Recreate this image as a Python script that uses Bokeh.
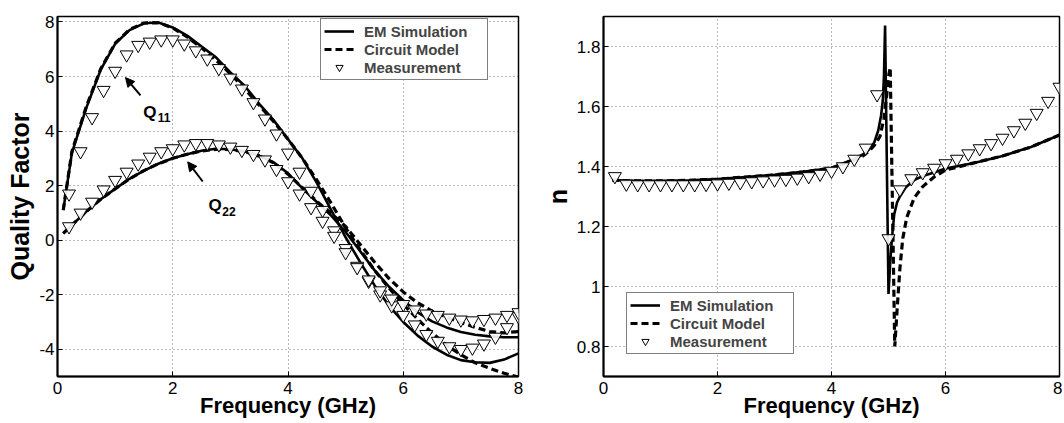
from bokeh.plotting import figure
from bokeh.layouts import row
from bokeh.models import FixedTicker, Legend, LegendItem, Arrow, NormalHead, Range1d
from bokeh.core.properties import value
from bokeh.embed import file_html
from bokeh.resources import INLINE

FONT = "Liberation Sans"

# ---------------- left panel: quality factor ----------------
q_freq = [0.1, 0.25, 0.5, 0.75, 1.0, 1.25, 1.5, 1.75, 2.0, 2.25, 2.5, 2.75, 3.0, 3.25, 3.5, 3.75,
          4.0, 4.25, 4.5, 4.75, 5.0, 5.25, 5.5, 5.75, 6.0, 6.25, 6.5, 6.75, 7.0, 7.25, 7.5, 7.75, 8.0]
q11_em = [1.1, 3.2, 4.85, 6.25, 7.2, 7.7, 7.95, 7.98, 7.8, 7.5, 7.1, 6.7, 6.15, 5.65, 5.0, 4.4,
          3.7, 3.0, 2.1, 1.1, 0.1, -0.8, -1.65, -2.4, -3.0, -3.5, -3.9, -4.2, -4.4, -4.48, -4.5, -4.38, -4.15]
q11_cm = [1.1, 3.25, 4.9, 6.28, 7.22, 7.72, 7.96, 7.97, 7.78, 7.45, 7.05, 6.6, 6.1, 5.55, 4.95, 4.35,
          3.7, 3.0, 2.2, 1.35, 0.45, -0.35, -1.1, -1.75, -2.35, -2.9, -3.4, -3.85, -4.2, -4.5, -4.7, -4.88, -5.02]
q22_em = [0.25, 0.55, 1.05, 1.5, 1.88, 2.25, 2.55, 2.8, 3.0, 3.15, 3.28, 3.35, 3.33, 3.25, 3.1, 2.85,
          2.45, 1.9, 1.4, 0.9, 0.3, -0.4, -1.1, -1.7, -2.2, -2.65, -2.98, -3.2, -3.37, -3.47, -3.53, -3.56, -3.56]
q22_cm = [0.25, 0.55, 1.05, 1.5, 1.88, 2.25, 2.55, 2.8, 3.0, 3.15, 3.27, 3.33, 3.32, 3.24, 3.08, 2.84,
          2.42, 1.92, 1.42, 0.98, 0.5, -0.15, -0.8, -1.4, -1.9, -2.3, -2.6, -2.82, -3.02, -3.2, -3.35, -3.4, -3.35]

meas_freq = [0.2, 0.4, 0.6, 0.8, 1.0, 1.2, 1.4, 1.6, 1.8, 2.0, 2.2, 2.4, 2.6, 2.8, 3.0, 3.2, 3.4, 3.6, 3.8, 4.0,
             4.2, 4.4, 4.6, 4.8, 5.0, 5.2, 5.4, 5.6, 5.8, 6.0, 6.2, 6.4, 6.6, 6.8, 7.0, 7.2, 7.4, 7.6, 7.8, 8.0]
q11_meas = [1.7, 3.25, 4.5, 5.5, 6.2, 6.8, 7.15, 7.27, 7.35, 7.35, 7.2, 6.95, 6.65, 6.3, 5.95, 5.55, 5.05, 4.45, 3.9, 3.2,
            2.5, 1.8, 1.1, 0.35, -0.3, -0.95, -1.5, -2.0, -2.4, -2.75, -3.1, -3.45, -3.7, -3.9, -4.0, -3.95, -3.8, -3.55, -3.2, -2.8]
q22_meas = [0.5, 1.0, 1.4, 1.85, 2.2, 2.5, 2.8, 3.05, 3.25, 3.36, 3.5, 3.55, 3.55, 3.5, 3.42, 3.3, 3.15, 2.95, 2.6, 2.15,
            1.7, 1.2, 0.7, 0.15, -0.45, -1.0, -1.45, -1.85, -2.15, -2.35, -2.55, -2.7, -2.75, -2.85, -2.92, -2.95, -2.9, -2.85, -2.75, -2.65]

q_xticks = [0, 2, 4, 6, 8]
q_yticks = [-4, -2, 0, 2, 4, 6, 8]
q_ytick_labels = ["-4", "-2", "0", "2", "4", "6", "8"]

# annotations (data coordinates)
q11_label_xy = (1.49, 4.69)
q11_sub_xy = (1.74, 4.5)
q11_arrow = (1.44, 5.31, 1.18, 5.96)
q22_label_xy = (2.62, 1.27)
q22_sub_xy = (2.86, 1.05)
q22_arrow = (2.52, 2.15, 2.26, 2.87)

# ---------------- right panel: refractive index n ----------------
n_em_freq = [0.15, 0.5, 1.0, 1.5, 2.0, 2.5, 3.0, 3.5, 4.0, 4.2, 4.4, 4.55, 4.65, 4.75, 4.82, 4.87, 4.9, 4.92, 4.94,
             5.0, 5.03, 5.06, 5.1, 5.15, 5.2, 5.3, 5.45, 5.6, 5.8, 6.0, 6.5, 7.0, 7.5, 8.0]
n_em = [1.355, 1.352, 1.352, 1.354, 1.358, 1.365, 1.372, 1.382, 1.395, 1.41, 1.425, 1.44, 1.455, 1.48, 1.52, 1.57, 1.62, 1.7, 1.87,
        0.975, 1.08, 1.16, 1.24, 1.28, 1.30, 1.33, 1.355, 1.368, 1.38, 1.393, 1.412, 1.435, 1.465, 1.505]
n_cm_freq = [0.15, 0.5, 1.0, 1.5, 2.0, 2.5, 3.0, 3.5, 4.0, 4.2, 4.4, 4.55, 4.65, 4.75, 4.85, 4.92, 4.97, 5.0, 5.03,
             5.11, 5.15, 5.2, 5.25, 5.32, 5.45, 5.6, 5.8, 6.0, 6.5, 7.0, 7.5, 8.0]
n_cm = [1.355, 1.352, 1.352, 1.354, 1.358, 1.365, 1.372, 1.382, 1.395, 1.408, 1.422, 1.435, 1.45, 1.47, 1.5, 1.56, 1.64, 1.7, 1.73,
        0.80, 0.92, 1.06, 1.16, 1.23, 1.295, 1.333, 1.365, 1.388, 1.412, 1.435, 1.465, 1.505]
n_meas = [1.367, 1.342, 1.340, 1.340, 1.340, 1.340, 1.340, 1.340, 1.341, 1.343, 1.345, 1.347, 1.350, 1.353, 1.356, 1.358,
          1.362, 1.367, 1.375, 1.385, 1.400, 1.425, 1.462, 1.64, 1.16, 1.323, 1.36, 1.38, 1.395, 1.41, 1.425, 1.443,
          1.46, 1.477, 1.495, 1.52, 1.545, 1.578, 1.618, 1.665]

n_xticks = [0, 2, 4, 6, 8]
n_yticks = [0.8, 1.0, 1.2, 1.4, 1.6, 1.8]
n_ytick_labels = ["0.8", "1", "1.2", "1.4", "1.6", "1.8"]

legend_labels = ["EM Simulation", "Circuit Model", "Measurement"]
x_label = "Frequency (GHz)"


def style(p, yticks, ylabels, ylabel):
    p.xaxis.ticker = FixedTicker(ticks=q_xticks)
    p.yaxis.ticker = FixedTicker(ticks=yticks)
    p.yaxis.major_label_overrides = {t: l for t, l in zip(yticks, ylabels)}
    p.xaxis.major_label_overrides = {t: str(t) for t in q_xticks}
    for ax in (p.xaxis, p.yaxis):
        ax.axis_line_width = 2
        ax.axis_line_color = "black"
        ax.major_tick_in = 5
        ax.major_tick_out = 0
        ax.major_tick_line_color = "black"
        ax.major_tick_line_width = 1
        ax.minor_tick_line_color = None
        ax.major_label_text_font = FONT
        ax.major_label_text_font_size = "17px"
        ax.major_label_text_color = "black"
        ax.axis_label_text_font = FONT
        ax.axis_label_text_font_style = "bold"
        ax.axis_label_text_color = "black"
    p.xaxis.axis_label = x_label
    p.xaxis.axis_label_text_font_size = "22px"
    p.xaxis.major_label_standoff = 5
    p.xaxis.axis_label_standoff = -4
    p.yaxis.axis_label = ylabel
    p.yaxis.axis_label_text_font_size = "25px"
    p.yaxis.major_label_standoff = 3
    p.yaxis.axis_label_standoff = 2
    p.grid.grid_line_color = "black"
    p.grid.grid_line_alpha = 0.55
    p.grid.grid_line_dash = "1 3"
    p.grid.grid_line_width = 1
    p.outline_line_color = "black"
    p.outline_line_width = 1.5
    p.outline_line_alpha = 1
    p.background_fill_color = "white"
    p.border_fill_color = "white"


def make_legend(renderers, loc):
    items = [LegendItem(label=l, renderers=[r]) for l, r in zip(legend_labels, renderers)]
    lg = Legend(items=items, location=loc, border_line_color="black", border_line_width=1.2,
                background_fill_color="white", background_fill_alpha=1,
                label_text_font=FONT, label_text_font_size="15px", label_text_font_style="bold",
                glyph_width=30, glyph_height=18, label_height=18, label_width=120,
                spacing=0, padding=3, margin=0, label_standoff=10)
    return lg


LINE_W = 2.6
DASH = "7 4"
MARK = 13
H = 422

# ---- left figure ----
p1 = figure(width=540, height=H, output_backend="svg", toolbar_location=None,
            x_range=Range1d(0, 8), y_range=Range1d(-5, 8.2),
            min_border_left=57, min_border_right=22, min_border_top=15, min_border_bottom=46)
style(p1, q_yticks, q_ytick_labels, "Quality Factor")

r_em = p1.line(q_freq, q11_em, line_color="black", line_width=LINE_W)
p1.line(q_freq, q22_em, line_color="black", line_width=LINE_W)
r_cm = p1.line(q_freq, q11_cm, line_color="black", line_width=LINE_W + 0.6, line_dash=DASH)
p1.line(q_freq, q22_cm, line_color="black", line_width=LINE_W + 0.6, line_dash=DASH)
r_ms = p1.scatter(meas_freq, q11_meas, marker="inverted_triangle", size=MARK,
                  line_color="black", line_width=1, fill_color="white", fill_alpha=0.9)
p1.scatter(meas_freq, q22_meas, marker="inverted_triangle", size=MARK,
           line_color="black", line_width=1, fill_color="white", fill_alpha=0.9)

for (lx, ly), (sx, sy), sub in ((q11_label_xy, q11_sub_xy, "11"), (q22_label_xy, q22_sub_xy, "22")):
    p1.text(x=[lx], y=[ly], text=["Q"], text_font=value(FONT), text_font_size="17px",
            text_font_style="bold", text_color="black", text_baseline="alphabetic", text_align="left")
    p1.text(x=[sx], y=[sy], text=[sub], text_font=value(FONT), text_font_size="12px",
            text_font_style="bold", text_color="black", text_baseline="alphabetic", text_align="left")

for (xs, ys, xe, ye) in (q11_arrow, q22_arrow):
    p1.add_layout(Arrow(end=NormalHead(size=9, fill_color="black", line_color="black"),
                        x_start=xs, y_start=ys, x_end=xe, y_end=ye,
                        line_color="black", line_width=2))

p1.add_layout(make_legend([r_em, r_cm, r_ms], (263, 296)))

# ---- right figure ----
p2 = figure(width=522, height=H, output_backend="svg", toolbar_location=None,
            x_range=Range1d(0, 8), y_range=Range1d(0.7, 1.9),
            min_border_left=59, min_border_right=3, min_border_top=16, min_border_bottom=46)
style(p2, n_yticks, n_ytick_labels, "n")

r2_em = p2.line(n_em_freq, n_em, line_color="black", line_width=LINE_W)
r2_cm = p2.line(n_cm_freq, n_cm, line_color="black", line_width=LINE_W + 0.6, line_dash=DASH)
r2_ms = p2.scatter(meas_freq, n_meas, marker="inverted_triangle", size=MARK,
                   line_color="black", line_width=1, fill_color="white", fill_alpha=0.9)
p2.add_layout(make_legend([r2_em, r2_cm, r2_ms], (23, 22)))

layout = row(p1, p2, spacing=0)
open("out.html", "w").write(file_html(layout, INLINE))
